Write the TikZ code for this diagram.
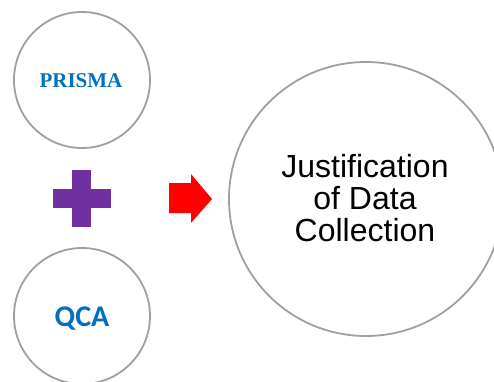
\documentclass[tikz,border=0pt]{standalone}
\usepackage{fontspec}
\setmainfont{Liberation Sans}
\newfontfamily\calib{Carlito}
\newfontfamily\serifb{Liberation Serif}
\definecolor{ringgray}{HTML}{A0A0A0}
\definecolor{txtblue}{HTML}{0070C0}
\definecolor{plumple}{HTML}{7030A0}
\tikzset{
  ring/.style={circle, draw=ringgray, line width=1.8pt, fill=white, inner sep=0pt},
  x=1pt, y=-1pt
}
\begin{document}
\begin{tikzpicture}
\useasboundingbox (0,0) rectangle (494,381);
\clip (0,0) rectangle (494,381);
% PRISMA circle
\node[ring, minimum size=136pt] (prisma) at (82,80) {};
\node[text=txtblue, font=\serifb\bfseries\fontsize{21}{21}\selectfont] (prismatxt) at (81,81) {PRISMA};
% QCA circle
\node[ring, minimum size=136pt] (qca) at (82,316) {};
\node[text=txtblue, font=\calib\bfseries\fontsize{30}{30}\selectfont] (qcatxt) at (82,319) {QCA};
% plus sign
\fill[plumple] (72,170) rectangle (91,227);
\fill[plumple] (53,189) rectangle (111,208);
\coordinate (plus) at (82,198);
% red arrow
\fill[red] (169,183) -- (191,183) -- (191,174) -- (212,199) -- (191,223) -- (191,213) -- (169,213) -- cycle;
\coordinate (arrow) at (190,199);
% big circle
\node[ring, minimum size=274pt] (just) at (366,199) {};
\node[align=center, font=\fontsize{32}{32}\selectfont] (justtxt) at (365,198) {Justification\\of Data\\Collection};
\end{tikzpicture}
\end{document}
